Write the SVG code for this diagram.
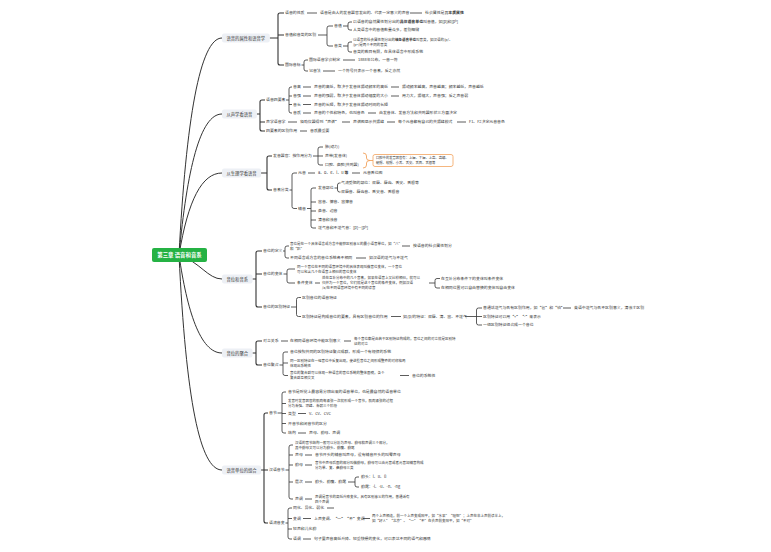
<svg xmlns="http://www.w3.org/2000/svg" width="771" height="552" viewBox="0 0 771 552">
<style>
.t{font-family:"Noto Sans CJK SC","Noto Sans",sans-serif;font-size:3.9px;fill:#333}
.h{font-size:4.3px;text-anchor:middle}
.hb{fill:#edf0f5}
.b{font-weight:bold}
.w{font-size:3.5px}
.c{fill:none;stroke:#333;stroke-width:.8}
.s{stroke-width:1.1}
.m{stroke-width:1}
.o{fill:none;stroke:#f2a35e;stroke-width:.9}
</style>
<rect width="771" height="552" fill="#fff"/>
<g id="connectors">
<path class="c m" d="M179 255C186 120 200 38 222 38"/>
<path class="c m" d="M179 255C187 170 200 114 222 114"/>
<path class="c m" d="M179 255C188 200 202 173 222 173"/>
<path class="c m" d="M179 255C200 262 208 279 222 279"/>
<path class="c m" d="M179 255C187 310 200 353 222 353"/>
<path class="c m" d="M179 255C186 400 200 470 222 470"/>
<path class="c s" d="M269.7 38H278M284 13H280Q278 13 278 15V63Q278 65 280 65H284M278 35H284"/>
<path class="c" d="M318 35H327M333 26H329Q327 26 327 28V44Q327 46 329 46H333"/>
<path class="c" d="M343 26H348M352 22H350Q348 22 348 24V28Q348 30 350 30H352"/>
<path class="c" d="M343 46H348M352 42H350Q348 42 348 44V50Q348 52 350 52H352"/>
<path class="c" d="M301.5 65H304M308 60H306Q304 60 304 62V69Q304 71 306 71H308"/>
<path class="c" d="M307 13H317M410 13H422M343 60H355M323 71H335"/>
<path class="c s" d="M256.8 114H260M265 100H262Q260 100 260 102V129Q260 131 262 131H265M260 122H265"/>
<path class="c" d="M286 100H289M292 87H291Q289 87 289 89V111Q289 113 291 113H292M289 96H292M289 104.5H292"/>
<path class="c" d="M303 87H311M391 87H399M303 96H311M391 96H399M303 104.5H311M303 113H311M368 113H376M288 122H297M342 122H350M387 122H395M457 122H466M300 131H307"/>
<path class="c s" d="M261 173H267M272 156H269Q267 156 267 158V188Q267 190 269 190H272"/>
<path class="c" d="M313 156H318M323 147H320Q318 147 318 149V163Q318 165 320 165H323M318 156H323"/>
<path class="c" d="M289.5 190H292M297 173H294Q292 173 292 175V206.5Q292 208.5 294 208.5H297"/>
<path class="c" d="M307 208.5H311M316 188H313Q311 188 311 190V226Q311 228 313 228H316M311 202H316M311 211H316M311 220H316"/>
<path class="c" d="M334.5 188H337.5M340.5 183H339.5Q337.5 183 337.5 185V190Q337.5 192 339.5 192H340.5"/>
<path class="c" d="M308 173H315M352 173H360"/>
<path class="o" d="M363 153Q366.5 153 366.5 156V158Q366.5 160.5 370 160.5Q366.5 160.5 366.5 163V165Q366.5 168 363 168M370 160.5H373"/>
<path class="c s" d="M252.5 279H256M262 251H258Q256 251 256 253V305Q256 307 258 307H262M256 274H262"/>
<path class="c" d="M283 251H285M289 246H287Q285 246 285 248V256Q285 258 287 258H289"/>
<path class="c" d="M283.5 274H287M295 269H289Q287 269 287 271V281Q287 283 289 283H295"/>
<path class="c" d="M429 283H435M440 278.5H437Q435 278.5 435 280.5V286Q435 288 437 288H440"/>
<path class="c" d="M291 307H296.5M301 297.5H298.5Q296.5 297.5 296.5 299.5V314.5Q296.5 316.5 298.5 316.5H301"/>
<path class="c" d="M465 316.5H476.5M482 308H478.5Q476.5 308 476.5 310V323Q476.5 325 478.5 325H482M476.5 316.5H482"/>
<path class="c" d="M402 246H410M356 258H366M315 283H320M391 316.5H401M563 308H571"/>
<path class="c s" d="M252.5 353H256M262 341H258Q256 341 256 343V363Q256 365 258 365H262"/>
<path class="c" d="M279.5 365H283M288 352H285Q283 352 283 354V373.5Q283 375.5 285 375.5H288M283 363H288"/>
<path class="c" d="M281 341H288M344 341H351M400 375.5H409"/>
<path class="c s" d="M261 470H264M268 413H266Q264 413 264 415V521Q264 523 266 523H268M264 470H268"/>
<path class="c" d="M277.5 413H282M286 392H284Q282 392 282 394V431Q282 433 284 433H286M282 403.5H286M282 413.5H286M282 423.5H286"/>
<path class="c" d="M285.5 470H289M293 445H291Q289 445 289 447V497Q289 499 291 499H293M289 455H293M289 465H293M289 482H293"/>
<path class="c" d="M348 482H355M359 477H357Q355 477 355 479V485Q355 487 357 487H359"/>
<path class="c" d="M285.5 523H288M292 508H290Q288 508 288 510V537Q288 539 290 539H292M288 518.5H292M288 529H292"/>
<path class="c" d="M298 413.5H306M298 433H306M305 455H312M305 465H312M305 482H312M305 499H312M327 508H334M303 518.5H311M363 518.5H370M303 539H311"/>
</g>
<g id="main"><rect x="152" y="248" width="55" height="14" rx="2" fill="#25b244"/><text class="t b" x="179.5" y="256.9" text-anchor="middle" style="font-size:5.4px;fill:#fff">第三章 语音和音系</text></g>
<g id="h1"><rect class="hb" x="222" y="33.5" width="47.7" height="9" rx="2"/><text class="t h" x="245.85" y="39.5">语音的属性和语音学</text></g>
<g id="h2"><rect class="hb" x="222" y="109.5" width="34.8" height="9" rx="2"/><text class="t h" x="239.4" y="115.5">从声学看语音</text></g>
<g id="h3"><rect class="hb" x="222" y="168.5" width="39.1" height="9" rx="2"/><text class="t h" x="241.55" y="174.5">从生理学看语音</text></g>
<g id="h4"><rect class="hb" x="222" y="274.5" width="30.5" height="9" rx="2"/><text class="t h" x="237.25" y="280.5">音位和音系</text></g>
<g id="h5"><rect class="hb" x="222" y="348.5" width="30.5" height="9" rx="2"/><text class="t h" x="237.25" y="354.5">音位的聚合</text></g>
<g id="h6"><rect class="hb" x="222" y="465.5" width="39.1" height="9" rx="2"/><text class="t h" x="241.55" y="471.5">语音单位的组合</text></g>
<g id="s1">
<text class="t" x="285" y="14.4">语音的性质</text>
<text class="t" x="320" y="14.4">语音是由人的发音器官发出的、代表一定意义的声音</text>
<text class="t" x="425" y="14.4">社会属性是其<tspan class="b">本质属性</tspan></text>
<text class="t" x="285" y="36.4">音值和音类的区别</text>
<text class="t" x="334" y="27.4">音值</text>
<text class="t" x="353" y="23.4">以语音的自然属性划分出的<tspan class="b">具体语音单位</tspan>叫音值，如[p]和[pʰ]</text>
<text class="t" x="353" y="31.4">人类语言中的音值数量众多，差别细微</text>
<text class="t" x="334" y="47.4">音类</text>
<text class="t w" x="353" y="40.7">以语音的社会属性划分出的<tspan class="b">抽象语音单位</tspan>叫音类，如汉语的/p/、</text>
<text class="t w" x="353" y="45.8">/pʰ/是两个不同的音类</text>
<text class="t" x="353" y="53.4">音类的数目有限，在具体语言中形成系统</text>
<text class="t" x="285" y="66.4">国际音标</text>
<text class="t" x="309" y="61.4">国际语音学会制定</text>
<text class="t" x="358" y="61.4">1888年公布，一音一符</text>
<text class="t" x="309" y="72.4">记音法</text>
<text class="t" x="338" y="72.4">一个符号只表示一个音素，反之亦然</text>
</g>
<g id="s2">
<text class="t" x="266" y="101.4">语音四要素</text>
<text class="t" x="293" y="88.4">音高</text>
<text class="t" x="314" y="88.4">声音的高低，取决于发音体振动频率的高低</text>
<text class="t" x="402" y="88.4">振动频率越高，声音越高；频率越低，声音越低</text>
<text class="t" x="293" y="97.4">音强</text>
<text class="t" x="314" y="97.4">声音的强弱，取决于发音体振动幅度的大小</text>
<text class="t" x="402" y="97.4">用力大，振幅大，声音强；反之声音弱</text>
<text class="t" x="293" y="105.9">音长</text>
<text class="t" x="314" y="105.9">声音的长短，取决于发音体振动时间的长短</text>
<text class="t" x="293" y="114.4">音质</text>
<text class="t" x="314" y="114.4">声音的个性和特色，也叫音色</text>
<text class="t" x="379" y="114.4">由发音体、发音方法和共鸣器形状三方面决定</text>
<text class="t" x="266" y="123.4">声学语音学</text>
<text class="t" x="300" y="123.4">借助仪器得到“声谱”</text>
<text class="t" x="353" y="123.4">声谱图显示共振峰</text>
<text class="t" x="398" y="123.4">每个元音都有自己的共振峰模式</text>
<text class="t" x="469" y="123.4">F1、F2决定元音音色</text>
<text class="t" x="266" y="132.4">四要素的区别作用</text>
<text class="t" x="310" y="132.4">音质最重要</text>
</g>
<g id="s3">
<text class="t" x="273" y="157.4">发音器官：按作用分为</text>
<text class="t" x="325" y="148.4">肺(动力)</text>
<text class="t" x="325" y="157.4">声带(发音体)</text>
<text class="t" x="325" y="166.4">口腔、鼻腔(共鸣器)</text>
<rect x="373" y="154.5" width="80" height="12" rx="2" fill="#fff" stroke="#f2a35e" stroke-width=".8"/>
<text class="t" x="376" y="159.3" style="font-size:3.3px">口腔中的发音器官有：上唇、下唇、上齿、齿龈、</text>
<text class="t" x="376" y="164.1" style="font-size:3.3px">硬腭、软腭、小舌、舌尖、舌面、舌根等</text>
<text class="t" x="273" y="191.4">音素分类</text>
<text class="t" x="298" y="174.4">元音</text>
<text class="t" x="318" y="174.4">a、o、e、i、u <tspan class="b">等</tspan></text>
<text class="t" x="363" y="174.4">元音舌位图</text>
<text class="t" x="298" y="209.9">辅音</text>
<text class="t" x="318" y="189.4">发音部位</text>
<text class="t" x="341" y="184.4">气流受阻的部位：双唇、唇齿、舌尖、舌根等</text>
<text class="t" x="341" y="193.4">双唇音、唇齿音、舌尖音、舌根音</text>
<text class="t" x="318" y="203.4">塞音、擦音、塞擦音</text>
<text class="t" x="318" y="212.4">鼻音、边音</text>
<text class="t" x="318" y="221.4">清音和浊音</text>
<text class="t" x="318" y="229.4">送气音和不送气音：[p]—[pʰ]</text>
</g>
<g id="s4">
<text class="t" x="263" y="252.4">音位的定义</text>
<text class="t w" x="290" y="244.7">音位是在一个具体语言或方言中能够区别意义的最小语音单位，如“八”</text>
<text class="t w" x="290" y="249.8">和“趴”</text>
<text class="t" x="413" y="247.4">按语音的社会属性划分</text>
<text class="t" x="290" y="259.4">不同语言或方言的音位系统各不相同</text>
<text class="t" x="369" y="259.4">如汉语的送气与不送气</text>
<text class="t" x="263" y="275.4">音位的变体</text>
<text class="t w" x="297" y="267.7">同一个音位在不同的语音环境中的具体表现叫做音位变体，一个音位</text>
<text class="t w" x="297" y="272.8">可以包含几个在语音上相似的音位变体</text>
<text class="t" x="297" y="284.4">条件变体</text>
<text class="t w" x="322" y="279.2">处在互补分布中的几个音素，如果在语音上又比较相似，就可以</text>
<text class="t w" x="322" y="284.3">归并为一个音位，它们就是这个音位的条件变体，例如汉语</text>
<text class="t w" x="322" y="289.4">/a/在不同语音环境中有不同的读音</text>
<text class="t" x="441" y="279.9">在互补分布条件下的变体叫条件变体</text>
<text class="t" x="441" y="289.4">在相同位置可以自由替换的变体叫自由变体</text>
<text class="t" x="263" y="308.4">音位的区别特征</text>
<text class="t" x="302" y="298.9">区别音位的语音特征</text>
<text class="t" x="302" y="317.9">区别特征是构成音位的要素，具有区别音位的作用</text>
<text class="t" x="403" y="317.9">如/p/的特征：双唇、清、塞、不送气</text>
<text class="t" x="483" y="309.4">普通话送气与否有区别作用，如“爸”和“怕”</text>
<text class="t" x="574" y="309.4">英语中送气与否不区别意义，清浊才区别</text>
<text class="t" x="483" y="317.9">区别特征可以用“+”“-”来表示</text>
<text class="t" x="483" y="326.4">一组区别特征组合成一个音位</text>
</g>
<g id="s5">
<text class="t" x="263" y="342.4">对立关系</text>
<text class="t" x="290" y="342.4">在相同语音环境中能区别意义</text>
<text class="t w" x="354" y="339.7">每个音位都是由若干区别特征构成的，音位之间的对立就是区别特</text>
<text class="t w" x="354" y="344.8">征的对立</text>
<text class="t" x="263" y="366.4">音位聚合</text>
<text class="t" x="290" y="353.4">音位按照共同的区别特征聚合成群，形成一个有规律的系统</text>
<text class="t w" x="290" y="361.7">同一区别特征在一组音位中反复出现，使这些音位之间形成整齐的对称格局</text>
<text class="t w" x="290" y="366.8">体现出系统性</text>
<text class="t w" x="290" y="374.2">音位的聚合群可以体现一种语言的音位系统的整体面貌，各个</text>
<text class="t w" x="290" y="379.3">聚合群互相交叉</text>
<text class="t" x="412" y="376.9">音位的系统性</text>
</g>
<g id="s6">
<text class="t" x="269" y="414.4">音节</text>
<text class="t" x="288" y="393.4">音节是听觉上最容易分辨出来的语音单位，也是最自然的语音单位</text>
<text class="t w" x="288" y="402.2">发音时发音器官的肌肉每紧张一次就形成一个音节，肌肉紧张的过程</text>
<text class="t w" x="288" y="407.3">分为渐强、顶峰、渐弱三个阶段</text>
<text class="t" x="288" y="414.9">类型</text>
<text class="t" x="309" y="414.9">V、CV、CVC</text>
<text class="t" x="288" y="424.9">开音节和闭音节的区分</text>
<text class="t" x="288" y="434.4">结构</text>
<text class="t" x="309" y="434.4">声母、韵母、声调</text>
<text class="t" x="269" y="471.4">汉语音节</text>
<text class="t w" x="295" y="443.7">汉语的音节结构一般可以分析为声母、韵母和声调三个部分，</text>
<text class="t w" x="295" y="448.8">其中韵母又可以分为韵头、韵腹、韵尾</text>
<text class="t" x="295" y="456.4">声母</text>
<text class="t" x="315" y="456.4">音节开头的辅音叫声母，没有辅音开头的叫零声母</text>
<text class="t" x="295" y="466.4">韵母</text>
<text class="t w" x="315" y="463.7">音节中声母后面的部分叫做韵母，韵母可以由元音或者元音加辅音构成</text>
<text class="t w" x="315" y="468.8">分为单、复、鼻韵母三类</text>
<text class="t" x="295" y="483.4">层次</text>
<text class="t" x="315" y="483.4">韵头、韵腹、韵尾</text>
<text class="t" x="361" y="478.4">韵头：i、u、ü</text>
<text class="t" x="361" y="488.4">韵尾：-i、-u、-n、-ng</text>
<text class="t" x="295" y="500.4">声调</text>
<text class="t w" x="315" y="497.7">声调是音节的高低升降变化，具有区别意义的作用，普通话有</text>
<text class="t w" x="315" y="502.8">四个声调</text>
<text class="t" x="269" y="524.4">语流音变</text>
<text class="t" x="293" y="509.4">同化、异化、弱化</text>
<text class="t" x="293" y="519.9">变调</text>
<text class="t" x="314" y="519.9">上声变调、“一”“不”变调</text>
<text class="t w" x="372" y="517.2">两个上声相连，前一个上声变成阳平，如“水果”“理想”；上声在非上声前读半上，</text>
<text class="t w" x="372" y="522.3">如“好人”“北京”。“一”“不”在去声前变阳平，如“不对”</text>
<text class="t" x="293" y="530.4">轻声和儿化韵</text>
<text class="t" x="293" y="540.4">语调</text>
<text class="t" x="314" y="540.4">句子里声音高低升降、轻重快慢的变化，可以表达不同的语气和感情</text>
</g>
</svg>
